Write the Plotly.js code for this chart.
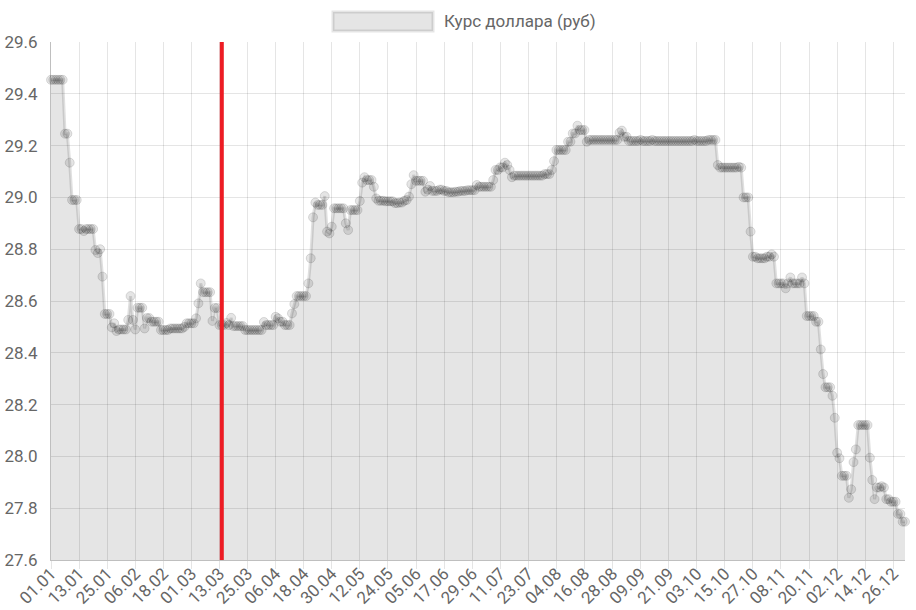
<!DOCTYPE html>
<html>
<head>
<meta charset="utf-8">
<script src="https://cdn.plot.ly/plotly-3.0.1.min.js"></script>
<style>html,body{margin:0;padding:0;background:#fff;}#chart{width:916px;height:610px;}</style>
</head>
<body>
<div id="chart"></div>
<script>
// Курс доллара (руб), 2004, daily values
const values = [
29.454,29.454,29.454,29.454,29.454,29.454,29.246,29.246,29.134,28.990,
28.990,28.990,28.878,28.878,28.870,28.878,28.878,28.878,28.878,28.797,
28.785,28.800,28.694,28.550,28.550,28.550,28.498,28.514,28.484,28.490,
28.490,28.490,28.490,28.527,28.619,28.527,28.490,28.574,28.574,28.574,
28.494,28.534,28.534,28.520,28.520,28.520,28.520,28.488,28.488,28.488,
28.488,28.494,28.494,28.494,28.494,28.494,28.494,28.500,28.514,28.514,
28.514,28.514,28.533,28.591,28.668,28.634,28.634,28.634,28.634,28.523,
28.573,28.573,28.507,28.507,28.507,28.515,28.507,28.535,28.503,28.503,
28.503,28.503,28.503,28.488,28.488,28.488,28.488,28.488,28.488,28.488,
28.488,28.519,28.507,28.507,28.507,28.507,28.539,28.533,28.520,28.520,
28.507,28.507,28.507,28.552,28.588,28.619,28.619,28.619,28.619,28.619,
28.668,28.765,28.923,28.980,28.971,28.971,28.971,29.005,28.868,28.861,
28.887,28.958,28.958,28.958,28.958,28.958,28.900,28.874,28.951,28.951,
28.951,28.951,28.986,29.057,29.078,29.067,29.067,29.067,29.041,28.996,
28.987,28.987,28.987,28.985,28.985,28.985,28.985,28.978,28.978,28.980,
28.980,28.987,28.990,29.003,29.051,29.086,29.064,29.064,29.064,29.064,
29.022,29.030,29.044,29.025,29.025,29.025,29.030,29.030,29.025,29.025,
29.020,29.020,29.020,29.022,29.022,29.025,29.025,29.025,29.028,29.028,
29.028,29.028,29.048,29.041,29.041,29.041,29.041,29.041,29.041,29.067,
29.106,29.106,29.116,29.116,29.134,29.125,29.106,29.078,29.084,29.084,
29.084,29.084,29.084,29.084,29.084,29.084,29.084,29.084,29.084,29.084,
29.084,29.090,29.090,29.090,29.106,29.140,29.183,29.183,29.183,29.183,
29.183,29.215,29.215,29.247,29.247,29.277,29.260,29.260,29.260,29.215,
29.222,29.222,29.222,29.222,29.222,29.222,29.222,29.222,29.222,29.222,
29.222,29.222,29.222,29.250,29.258,29.234,29.234,29.218,29.218,29.218,
29.218,29.218,29.222,29.218,29.218,29.218,29.218,29.222,29.218,29.218,
29.218,29.218,29.218,29.218,29.218,29.218,29.218,29.218,29.218,29.218,
29.218,29.218,29.218,29.218,29.218,29.222,29.218,29.218,29.218,29.218,
29.218,29.222,29.222,29.222,29.222,29.125,29.115,29.115,29.115,29.115,
29.115,29.115,29.115,29.115,29.118,29.115,29.000,29.000,29.000,28.868,
28.771,28.771,28.765,28.765,28.765,28.765,28.771,28.771,28.780,28.771,
28.668,28.668,28.668,28.668,28.649,28.668,28.691,28.668,28.668,28.668,
28.668,28.691,28.668,28.542,28.542,28.542,28.542,28.520,28.520,28.413,
28.318,28.267,28.267,28.267,28.234,28.149,28.014,27.993,27.925,27.925,
27.925,27.840,27.873,27.978,28.027,28.121,28.121,28.121,28.121,28.121,
27.995,27.909,27.835,27.880,27.880,27.885,27.880,27.835,27.835,27.825,
27.825,27.825,27.778,27.778,27.748,27.748
];

const tickLabels = ['01.01','13.01','25.01','06.02','18.02','01.03','13.03','25.03','06.04','18.04',
'30.04','12.05','24.05','05.06','17.06','29.06','11.07','23.07','04.08','16.08','28.08','09.09',
'21.09','03.10','15.10','27.10','08.11','20.11','02.12','14.12','26.12'];

const seriesName = 'Курс доллара (руб)';
const markerDate = '14.03';

// one category per day of 2004
const dates = [];
for (let k = 0; k < values.length; k++) {
  const d = new Date(Date.UTC(2004, 0, 1 + k));
  const dd = String(d.getUTCDate()).padStart(2, '0');
  const mm = String(d.getUTCMonth() + 1).padStart(2, '0');
  dates.push(dd + '.' + mm);
}
const idx = dates.map((_, k) => k);
const tickIdx = tickLabels.map(t => dates.indexOf(t));
const markerIdx = dates.indexOf(markerDate);

const W = 916, H = 610, ML = 51, MR = 11, MT = 42, MB = 50;
const PW = W - ML - MR, PH = H - MT - MB;
const px = x => (x - ML) / PW;
const py = y => (H - MB - y) / PH;

const font = {family: 'Roboto, "Liberation Sans", Arial, sans-serif', size: 17, color: '#666'};

const trace = {
  type: 'scatter', mode: 'lines+markers',
  x: idx, y: values, name: seriesName,
  text: dates,
  fill: 'tozeroy', fillcolor: 'rgba(0,0,0,0.1)',
  line: {color: 'rgba(0,0,0,0.12)', width: 3},
  marker: {size: 9, color: 'rgba(0,0,0,0.1)', line: {color: 'rgba(0,0,0,0.12)', width: 1}},
  cliponaxis: false, hoverinfo: 'skip', showlegend: false
};

const layout = {
  width: W, height: H,
  margin: {l: ML, r: MR, t: MT, b: MB, pad: 0},
  paper_bgcolor: '#fff', plot_bgcolor: '#fff',
  font: font,
  showlegend: false,
  xaxis: {
    type: 'linear', range: [0, values.length - 1],
    tickmode: 'array', tickvals: tickIdx, ticktext: tickLabels,
    tickangle: -45, ticks: 'outside', ticklen: 8, tickwidth: 1, tickcolor: 'rgba(0,0,0,0.1)',
    showgrid: true, gridcolor: 'rgba(0,0,0,0.1)', gridwidth: 1,
    showline: true, linecolor: 'rgba(0,0,0,0.25)', linewidth: 1,
    zeroline: false, tickfont: font, automargin: false, fixedrange: true, ticklabelstandoff: -12
  },
  yaxis: {
    range: [27.6, 29.6], tick0: 27.6, dtick: 0.2, tickformat: '.1f',
    ticks: '', showgrid: true, gridcolor: 'rgba(0,0,0,0.1)', gridwidth: 1,
    showline: true, linecolor: 'rgba(0,0,0,0.25)', linewidth: 1,
    zeroline: false, tickfont: font, automargin: false, ticklabelstandoff: 9, fixedrange: true
  },
  shapes: [
    {type: 'line', xref: 'x', yref: 'paper', x0: markerIdx, x1: markerIdx, y0: 0, y1: 1,
     line: {color: '#ed1c24', width: 4}, layer: 'above'},
    {type: 'rect', xref: 'paper', yref: 'paper', x0: px(333), x1: px(433), y0: py(31), y1: py(12),
     fillcolor: 'rgba(0,0,0,0.1)', line: {color: 'rgba(0,0,0,0.1)', width: 3}}
  ],
  annotations: [
    {xref: 'paper', yref: 'paper', x: px(442), y: py(21), xanchor: 'left', yanchor: 'middle',
     text: seriesName, showarrow: false, font: font}
  ]
};

Plotly.newPlot('chart', [trace], layout, {displayModeBar: false, staticPlot: true});
</script>
</body>
</html>
